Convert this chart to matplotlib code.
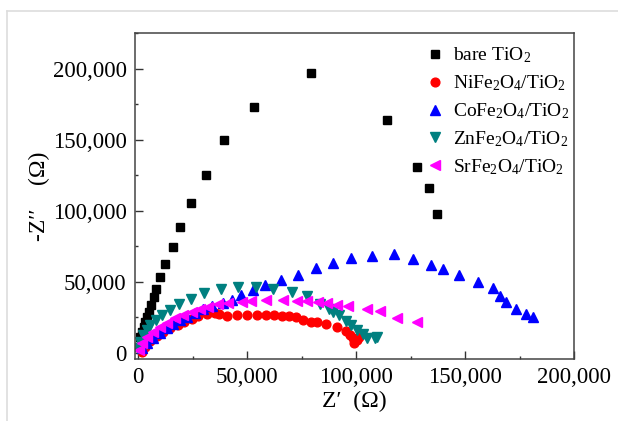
import matplotlib

matplotlib.use("Agg")
import matplotlib.pyplot as plt
from matplotlib.lines import Line2D
from matplotlib.ticker import FuncFormatter, MultipleLocator

plt.rcParams["font.family"] = ["Liberation Serif", "DejaVu Serif"]
plt.rcParams["mathtext.fontset"] = "custom"
plt.rcParams["mathtext.rm"] = "Liberation Serif"
plt.rcParams["mathtext.it"] = "Liberation Serif:italic"

# Nyquist data, Z' and -Z'' in ohm
bare_x = [200, 1100, 1800, 2600, 3300, 4100, 4900, 6100, 7200, 8400, 10200, 12500,
          15900, 19400, 24300, 31200, 39300, 53200, 79400, 114000, 127800, 133500, 137300]
bare_y = [4400, 11500, 15000, 18500, 22000, 25600, 29000, 33800, 39600, 45000, 53300, 62900,
          74600, 88700, 105600, 125000, 150000, 173000, 197000, 164000, 130800, 116000, 97700]

ni_x = [1700, 3200, 5500, 8600, 11600, 14700, 18500, 21100, 24600, 27600, 31800, 35300,
        37300, 40700, 45300, 50100, 54700, 58700, 62400, 65900, 69400, 72300, 75800,
        79400, 82300, 86200, 91100, 95400, 97200, 98500, 99100, 100300, 101500]
ni_y = [900, 4400, 8700, 12000, 15000, 17400, 19700, 21800, 24000, 26000, 27500, 28400,
        27500, 26000, 26500, 26800, 27000, 27000, 26500, 26300, 25800, 25400, 23200,
        22000, 22000, 20400, 18500, 15500, 12700, 10300, 7300, 9200, 11000]

co_x = [1700, 4000, 7000, 10100, 13200, 16200, 19300, 22300, 26100, 29900, 33700, 38800,
        43000, 47200, 52600, 58300, 65400, 73300, 81500, 89600, 97500, 107500, 117400,
        126300, 134300, 140000, 147400, 156000, 163000, 166000, 169000, 173200, 178000, 181000]
co_y = [3300, 6800, 10300, 13800, 17400, 20400, 23200, 25600, 28000, 30700, 33100, 35000,
        37300, 40600, 44400, 47900, 51400, 55100, 59900, 63600, 67100, 68300, 69500,
        66400, 62200, 59200, 54900, 49800, 46000, 40400, 36200, 30800, 27500, 25100]

zn_x = [100, 900, 2400, 4000, 5500, 8300, 11200, 14700, 19000, 24200, 30300, 37900,
        45700, 54100, 62100, 70500, 77400, 83500, 87800, 89600, 92300, 95400, 97600,
        100300, 103400, 105200, 108700, 109800]
zn_y = [3300, 8000, 12700, 16200, 19700, 23200, 26800, 30300, 34500, 38200, 42500, 45300,
        46700, 46700, 45300, 43200, 40100, 34500, 30800, 29100, 26800, 22700, 19700,
        16200, 13400, 10300, 10300, 11500]

sr_x = [600, 1700, 4000, 7000, 10100, 13200, 17000, 20700, 24600, 28400, 32300, 36800,
        41400, 47600, 51700, 58500, 66700, 72800, 77700, 82700, 86800, 91400, 96500,
        104900, 111000, 118600, 128000]
sr_y = [2100, 6800, 11000, 15000, 18500, 21400, 24400, 26800, 29100, 30700, 32100, 34200,
        35400, 36200, 36800, 37300, 37500, 36600, 36600, 35700, 35000, 33800, 33100,
        31000, 29800, 24900, 22000]

series = [
    (bare_x, bare_y, "s", "black", 5.6, "bare TiO$_2$"),
    (ni_x, ni_y, "o", "#ff0000", 6.3, "NiFe$_2$O$_4$/TiO$_2$"),
    (co_x, co_y, "^", "#0000ff", 7.3, "CoFe$_2$O$_4$/TiO$_2$"),
    (zn_x, zn_y, "v", "#008080", 7.3, "ZnFe$_2$O$_4$/TiO$_2$"),
    (sr_x, sr_y, "<", "#ff00ff", 7.3, "SrFe$_2$O$_4$/TiO$_2$"),
]

fig = plt.figure(figsize=(6.18, 4.21), dpi=100)
ax = fig.add_axes([135 / 618, 1 - 359 / 421, 439 / 618, 326 / 421])

for xs, ys, mk, col, ms, lab in series:
    ax.plot(xs, ys, ls="none", marker=mk, color=col, markersize=ms, label=lab)

ax.set_xlim(-1400, 200000)
ax.set_ylim(-4200, 225000)
ax.xaxis.set_major_locator(MultipleLocator(50000))
ax.xaxis.set_minor_locator(MultipleLocator(25000))
ax.yaxis.set_major_locator(MultipleLocator(50000))
ax.yaxis.set_minor_locator(MultipleLocator(25000))
fmt = FuncFormatter(lambda v, p: f"{int(round(v)):,}")
ax.xaxis.set_major_formatter(fmt)
ax.yaxis.set_major_formatter(fmt)
ax.tick_params(which="both", direction="in", top=False, right=False,
               labelsize=16.5, width=1.0, color="#333333")
ax.tick_params(which="major", length=5.5, pad=6)
ax.tick_params(which="minor", length=2.5)
for s in ax.spines.values():
    s.set_color("#444444")
    s.set_linewidth(1.1)

ax.set_xlabel("Z\u2032  (Ω)", fontsize=17, labelpad=2)
ax.set_ylabel("-Z\u2032\u2032    (Ω)", fontsize=17, labelpad=2)

ax.legend(loc="upper left", bbox_to_anchor=(0.632, 1.0), frameon=False,
          fontsize=14, handlelength=1.0, handletextpad=0.45, labelspacing=0.42,
          borderaxespad=0.25)

# light screenshot border
fig.add_artist(Line2D([7 / 618, 1], [1 - 11 / 421, 1 - 11 / 421],
                      color="#dddddd", lw=1.2, transform=fig.transFigure))
fig.add_artist(Line2D([7 / 618, 7 / 618], [0, 1 - 11 / 421],
                      color="#dddddd", lw=1.2, transform=fig.transFigure))

fig.savefig("out.png", dpi=100)
